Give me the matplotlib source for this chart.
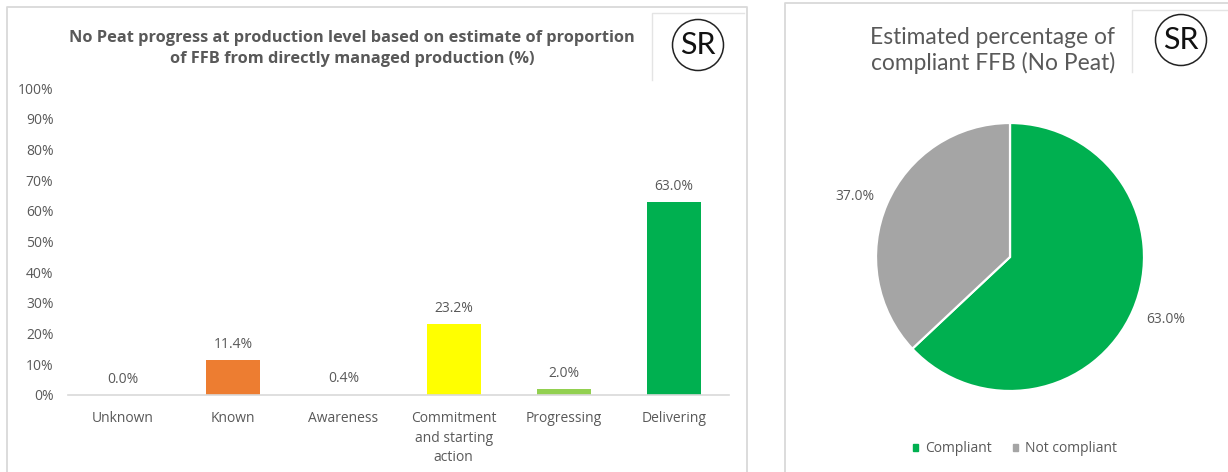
"""
No Peat progress charts: bars by stage and pie of compliant FFB.
"""
import matplotlib
matplotlib.use("Agg")
import matplotlib.pyplot as plt
from matplotlib.patches import Circle, Rectangle

W, H = 1228, 472

categories = ["Unknown", "Known", "Awareness", "Commitment\nand starting\naction", "Progressing", "Delivering"]
bar_values = [0.0, 11.4, 0.4, 23.2, 2.0, 63.0]
# the 0.4 bar does not show up in the original, so it stays white
bar_colors = ["#c00000", "#ed7d31", "#ffffff", "#ffff00", "#92d050", "#00b050"]
y_ticks = list(range(0, 101, 10))

pie_labels = ["Compliant", "Not compliant"]
pie_values = [63.0, 37.0]
pie_colors = ["#00b050", "#a5a5a5"]

title_left = "No Peat progress at production level based on estimate of proportion\nof FFB from directly managed production (%)"
title_right = "Estimated percentage of\ncompliant FFB (No Peat)"

TEXT = "#595959"
BORDER = "#d9d9d9"

plt.rcParams["font.family"] = ["Open Sans", "DejaVu Sans"]


def px_axes(fig, left, top, right, bottom):
    return fig.add_axes([left / W, 1 - bottom / H, (right - left) / W, (bottom - top) / H])


fig = plt.figure(figsize=(W / 100, H / 100), dpi=100, facecolor="white")

# pixel-space layer for the panels, logo boxes and titles
bg = fig.add_axes([0, 0, 1, 1], zorder=0)
bg.set_xlim(0, W)
bg.set_ylim(H, 0)
bg.axis("off")

bg.plot([7, 7, 747, 747], [H, 7, 7, H], color=BORDER, lw=1.3)
bg.plot([785, 785, W], [H, 3, 3], color=BORDER, lw=1.3)

for x0, x1, y0, y1, cx, cy in [(652, 744, 13, 80, 698, 45), (1132, W, 10, 72, 1181, 40)]:
    bg.plot([x0, x0, x1], [y1, y0, y0], color="#e4e4e4", lw=1)
    bg.add_patch(Circle((cx, cy), 25.5, fc="white", ec="#222222", lw=1.1))
    bg.text(cx, cy, "SR", ha="center", va="center", fontsize=22, color="#111111", family="Lato")

bg.text(352, 48.5, title_left, ha="center", va="center", fontsize=11.8, fontweight="bold",
        color=TEXT, linespacing=1.45)
bg.text(993, 50.5, title_right, ha="center", va="center", fontsize=16.4, color=TEXT, linespacing=1.25,
        family="Lato")

# bar chart
ax = px_axes(fig, 68, 88, 729, 395)
ax.patch.set_alpha(0)
x = range(len(categories))
ax.bar(x, bar_values, width=0.49, color=bar_colors)
for i, v in zip(x, bar_values):
    ax.annotate(f"{v:.1f}%", (i, v), xytext=(0, 5.8), textcoords="offset points", ha="center", va="bottom",
                fontsize=10, color=TEXT)
ax.set_xlim(-0.5, 5.5)
ax.set_ylim(0, 100)
ax.set_yticks(y_ticks)
ax.set_yticklabels([f"{t}%" for t in y_ticks], fontsize=10, color=TEXT)
ax.set_xticks(list(x))
ax.set_xticklabels(categories, fontsize=10, color=TEXT, linespacing=1.42)
ax.tick_params(axis="both", length=0)
ax.tick_params(axis="x", pad=11.5)
ax.tick_params(axis="y", pad=10.5)
for side in ["top", "right", "left"]:
    ax.spines[side].set_visible(False)
ax.spines["bottom"].set_color(BORDER)
ax.spines["bottom"].set_linewidth(1.2)

# pie chart
ax2 = px_axes(fig, 876, 123, 1144, 391)
wedges, _ = ax2.pie(pie_values, colors=pie_colors, startangle=90, counterclock=False, radius=1,
                    wedgeprops={"edgecolor": "white", "linewidth": 1.6})
ax2.set_xlim(-1, 1)
ax2.set_ylim(-1, 1)
ax2.text(1.164, -0.465, f"{pie_values[0]:.1f}%", ha="center", va="center", fontsize=10, color=TEXT)
ax2.text(-1.16, 0.453, f"{pie_values[1]:.1f}%", ha="center", va="center", fontsize=10, color=TEXT)

handles = [Rectangle((0, 0), 1, 1, color=c) for c in pie_colors]
fig.legend(handles, pie_labels, loc="center", bbox_to_anchor=(1015 / W, 1 - 448.5 / H), ncol=2, frameon=False,
           fontsize=10, labelcolor=TEXT, handlelength=0.4, handleheight=0.4, handletextpad=0.5, columnspacing=1.5)

fig.savefig("out.png", dpi=100)
